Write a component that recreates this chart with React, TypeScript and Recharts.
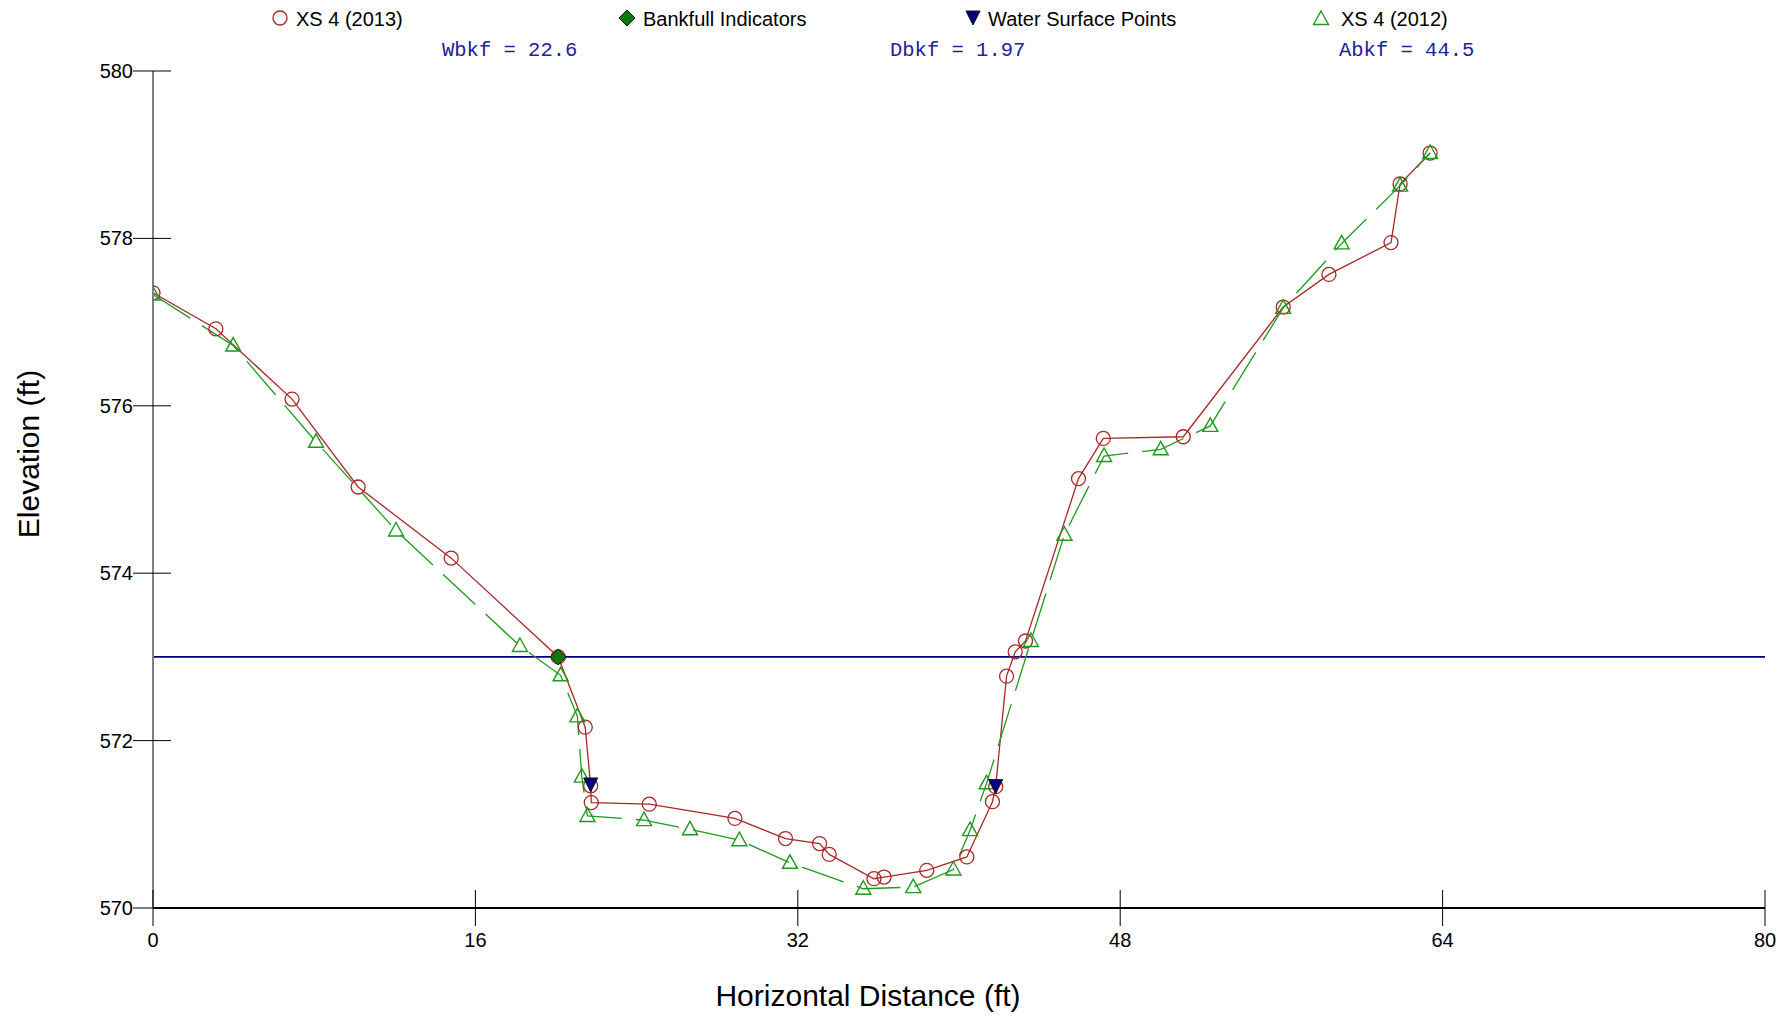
import React from "react"
import { LineChart, Line, XAxis, YAxis, ReferenceLine, Customized } from "recharts"

// XS 4 (2013) survey
const xs2013Dist = [0, 3.12, 6.9, 10.18, 14.8, 20.11, 21.45, 21.72, 21.75, 24.63, 28.88, 31.39, 33.08, 33.56, 35.78, 36.28, 38.4, 40.39, 41.66, 41.82, 42.36, 42.79, 43.3, 45.93, 47.16, 51.13, 56.09, 58.36, 61.44, 61.89, 63.38]
const xs2013Elev = [577.35, 576.92, 576.08, 575.03, 574.18, 573.0, 572.16, 571.46, 571.26, 571.24, 571.07, 570.83, 570.77, 570.64, 570.35, 570.37, 570.45, 570.61, 571.27, 571.45, 572.77, 573.06, 573.19, 575.13, 575.61, 575.63, 577.18, 577.57, 577.95, 578.65, 579.02]

// XS 4 (2012) survey
const xs2012Dist = [0, 3.98, 8.09, 12.06, 18.21, 20.23, 21.06, 21.28, 21.56, 24.37, 26.65, 29.1, 31.61, 35.25, 37.73, 39.72, 40.55, 41.37, 43.57, 45.23, 47.2, 50.01, 52.47, 56.09, 58.99, 61.89, 63.38]
const xs2012Elev = [577.33, 576.72, 575.57, 574.51, 573.13, 572.78, 572.29, 571.57, 571.1, 571.05, 570.94, 570.81, 570.54, 570.23, 570.25, 570.46, 570.93, 571.49, 573.19, 574.46, 575.4, 575.48, 575.76, 577.17, 577.94, 578.63, 579.02]

const bankfullDist = [20.11]
const bankfullElev = [573.0]

const waterDist = [21.72, 41.82]
const waterElev = [571.47, 571.45]

const bankfullStage = 573.0

const xTicks = [0, 16, 32, 48, 64, 80]
const yTicks = [570, 572, 574, 576, 578, 580]

const legendItems = ["XS 4 (2013)", "Bankfull Indicators", "Water Surface Points", "XS 4 (2012)"]
const stats = ["Wbkf = 22.6", "Dbkf = 1.97", "Abkf = 44.5"]

const zip = (xs: number[], ys: number[]) => xs.map((x, i) => ({ x, y: ys[i] }))

const RED = "#a82828"
const GREEN = "#1f991f"
const NAVY = "#000080"
const FONT = "'Liberation Sans', Arial, sans-serif"

const circleDot = (p: any) => (
  <circle key={p.index} cx={p.cx} cy={p.cy} r={7} fill="none" stroke={RED} strokeWidth={1.3} />
)
const triUp = (cx: number, cy: number) => `M${cx},${cy - 8} L${cx + 7.5},${cy + 5.5} L${cx - 7.5},${cy + 5.5} Z`
const triDown = (cx: number, cy: number) => `M${cx - 7},${cy - 7} L${cx + 7},${cy - 7} L${cx},${cy + 7} Z`
const diamond = (cx: number, cy: number) => `M${cx},${cy - 8} L${cx + 8},${cy} L${cx},${cy + 8} L${cx - 8},${cy} Z`

const triangleDot = (p: any) => (
  <path key={p.index} d={triUp(p.cx, p.cy)} fill="none" stroke={GREEN} strokeWidth={1.4} />
)
const diamondDot = (p: any) => (
  <path key={p.index} d={diamond(p.cx, p.cy)} fill="#0a7a0a" stroke="#111" strokeWidth={1} />
)
const waterDot = (p: any) => (
  <path key={p.index} d={triDown(p.cx, p.cy)} fill={NAVY} stroke="#111" strokeWidth={1} />
)

const XTick = (props: any) => {
  const { x, y, payload } = props
  return (
    <g>
      <line x1={x} x2={x} y1={y - 18} y2={y + 18} stroke="#000" strokeWidth={1} />
      <text x={x} y={y + 39} textAnchor="middle" fontSize={20} fontFamily={FONT} fill="#000">
        {payload.value}
      </text>
    </g>
  )
}

const YTick = (props: any) => {
  const { x, y, payload } = props
  return (
    <g>
      <line x1={x - 20} x2={x + 18} y1={y} y2={y} stroke="#000" strokeWidth={1} />
      <text x={x - 20} y={y + 7} textAnchor="end" fontSize={20} fontFamily={FONT} fill="#000">
        {payload.value}
      </text>
    </g>
  )
}

const Overlay = () => {
  const markerX = [280, 627, 973, 1321]
  const textX = [296, 643, 988, 1341]
  const statX = [442, 890, 1339]
  return (
    <g>
      <circle cx={markerX[0]} cy={18} r={7} fill="none" stroke={RED} strokeWidth={1.3} />
      <path d={diamond(markerX[1], 18)} fill="#0a7a0a" stroke="#111" strokeWidth={1} />
      <path d={triDown(markerX[2], 18)} fill={NAVY} stroke="#111" strokeWidth={1} />
      <path d={triUp(markerX[3], 19)} fill="none" stroke={GREEN} strokeWidth={1.4} />
      {legendItems.map((t, i) => (
        <text key={t} x={textX[i]} y={26} fontSize={20} fontFamily={FONT} fill="#000">
          {t}
        </text>
      ))}
      {stats.map((t, i) => (
        <text
          key={t}
          x={statX[i]}
          y={56}
          fontSize={20.5}
          fontFamily="'Liberation Mono', 'Courier New', monospace"
          fill="#22229a"
          style={{ whiteSpace: "pre" }}
        >
          {t}
        </text>
      ))}
      <text x={868} y={1006} textAnchor="middle" fontSize={30} fontFamily={FONT} fill="#000">
        Horizontal Distance (ft)
      </text>
      <text
        x={0}
        y={0}
        transform="translate(39,454) rotate(-90)"
        textAnchor="middle"
        fontSize={30}
        fontFamily={FONT}
        fill="#000"
      >
        Elevation (ft)
      </text>
    </g>
  )
}

export default function App() {
  return (
    <div style={{ position: "absolute", left: 0, top: 0, width: 1789, height: 1017, background: "#fff" }}>
      <LineChart width={1789} height={1017} margin={{ top: 71, right: 24, bottom: 0, left: 0 }}>
        <XAxis
          type="number"
          dataKey="x"
          domain={[0, 80]}
          ticks={xTicks}
          height={109}
          tickLine={false}
          tickSize={0}
          tickMargin={0}
          tick={(p: any) => <XTick {...p} />}
          axisLine={{ stroke: "#000", strokeWidth: 2 }}
          allowDataOverflow
        />
        <YAxis
          type="number"
          domain={[570, 580]}
          ticks={yTicks}
          width={153}
          tickLine={false}
          tickSize={0}
          tickMargin={0}
          tick={(p: any) => <YTick {...p} />}
          axisLine={{ stroke: "#808080", strokeWidth: 2 }}
          allowDataOverflow
        />
        <ReferenceLine y={bankfullStage} stroke={NAVY} strokeWidth={1.6} />
        <Line
          data={zip(xs2013Dist, xs2013Elev)}
          dataKey="y"
          type="linear"
          stroke={RED}
          strokeWidth={1.3}
          dot={circleDot}
          activeDot={false}
          isAnimationActive={false}
        />
        <Line
          data={zip(xs2012Dist, xs2012Elev)}
          dataKey="y"
          type="linear"
          stroke={GREEN}
          strokeWidth={1.3}
          strokeDasharray="44 14"
          dot={triangleDot}
          activeDot={false}
          isAnimationActive={false}
        />
        <Line
          data={zip(bankfullDist, bankfullElev)}
          dataKey="y"
          stroke="none"
          dot={diamondDot}
          activeDot={false}
          isAnimationActive={false}
        />
        <Line
          data={zip(waterDist, waterElev)}
          dataKey="y"
          stroke="none"
          dot={waterDot}
          activeDot={false}
          isAnimationActive={false}
        />
        <Customized component={<Overlay />} />
      </LineChart>
    </div>
  )
}
